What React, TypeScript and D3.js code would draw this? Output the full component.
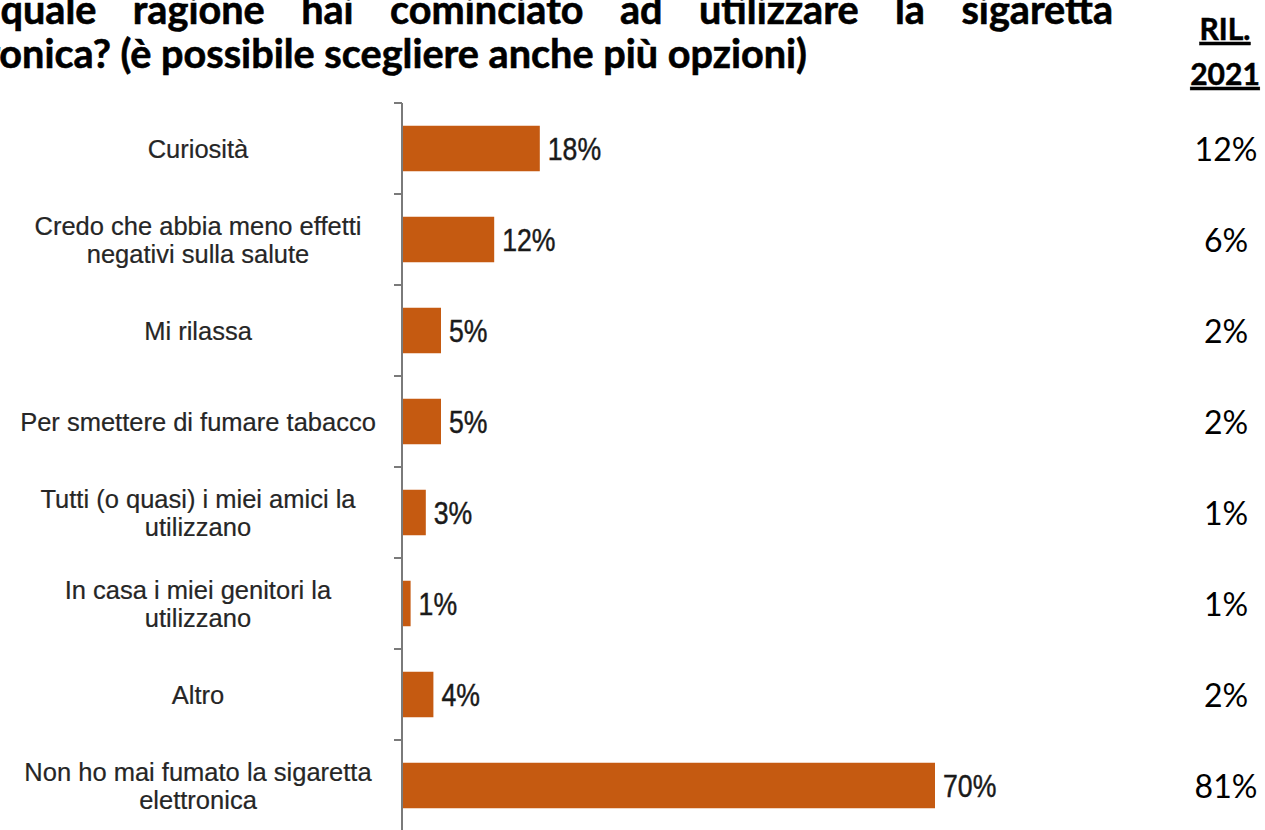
import React, { useEffect, useRef } from 'react';
import * as d3 from 'd3';

const categories = [
  'Curiosità',
  'Credo che abbia meno effetti negativi sulla salute',
  'Mi rilassa',
  'Per smettere di fumare tabacco',
  'Tutti (o quasi) i miei amici la utilizzano',
  'In casa i miei genitori la utilizzano',
  'Altro',
  'Non ho mai fumato la sigaretta elettronica',
];
const categoryLines = [
  ['Curiosità'],
  ['Credo che abbia meno effetti', 'negativi sulla salute'],
  ['Mi rilassa'],
  ['Per smettere di fumare tabacco'],
  ['Tutti (o quasi) i miei amici la', 'utilizzano'],
  ['In casa i miei genitori la', 'utilizzano'],
  ['Altro'],
  ['Non ho mai fumato la sigaretta', 'elettronica'],
];
const valuesCurrent = [18, 12, 5, 5, 3, 1, 4, 70];
const values2021 = [12, 6, 2, 2, 1, 1, 2, 81];
const headerLines = ['RIL.', '2021'];
const titleLine1 = 'Per quale ragione hai cominciato ad utilizzare la sigaretta';
const titleLine2 = 'elettronica? (è possibile scegliere anche più opzioni)';
const titleVisible2 = 'onica? (è possibile scegliere anche più opzioni)';

const W = 1265;
const H = 830;
const BAR = '#C55A11';
const SANS = '"Liberation Sans", Arial, sans-serif';
const CAL = 'Lato, "Open Sans", sans-serif';

export default function App() {
  const ref = useRef<SVGSVGElement>(null);

  useEffect(() => {
    document.body.style.margin = '0';
    document.body.style.overflow = 'hidden';
    const draw = () => {
      const svg = d3.select(ref.current);
      svg.selectAll('*').remove();

      const y = d3
        .scaleBand<string>()
        .domain(categories)
        .range([103, 831])
        .paddingInner(0.5)
        .paddingOuter(0.25);
      const x = d3.scaleLinear().domain([0, 100]).range([402, 1162]);
      const step = y.step();
      const x0 = x(0);

      // axis line + ticks at band boundaries
      const g = svg.append('g');
      g.append('line')
        .attr('x1', x0).attr('x2', x0)
        .attr('y1', y.range()[0]).attr('y2', y.range()[1])
        .attr('stroke', '#7a7a7a').attr('stroke-width', 2);
      g.selectAll('line.tick')
        .data(categories)
        .join('line')
        .attr('class', 'tick')
        .attr('x1', x0 - 8).attr('x2', x0)
        .attr('y1', (d) => (y(d) as number) - step * 0.25)
        .attr('y2', (d) => (y(d) as number) - step * 0.25)
        .attr('stroke', '#7a7a7a').attr('stroke-width', 2);

      // bars
      svg.append('g').selectAll('rect')
        .data(categories)
        .join('rect')
        .attr('x', x0 + 1)
        .attr('y', (d) => y(d) as number)
        .attr('width', (d, i) => x(valuesCurrent[i]) - x0)
        .attr('height', y.bandwidth())
        .attr('fill', BAR);

      // value labels (condensed look)
      svg.append('g').selectAll('text')
        .data(categories)
        .join('text')
        .attr('transform', (d, i) =>
          `translate(${x(valuesCurrent[i]) + 9},${(y(d) as number) + y.bandwidth() / 2}) scale(0.86,1)`)
        .attr('dy', '0.36em')
        .attr('font-family', SANS)
        .attr('font-size', 31)
        .attr('fill', '#1a1a1a')
        .attr('stroke', '#1a1a1a')
        .attr('stroke-width', 0.45)
        .text((d, i) => `${valuesCurrent[i]}%`);

      // category labels
      const lh = 28;
      const cl = svg.append('g').selectAll('text')
        .data(categories)
        .join('text')
        .attr('text-anchor', 'middle')
        .attr('font-family', SANS)
        .attr('font-size', 25.5)
        .attr('fill', '#262626')
        .attr('stroke', '#262626')
        .attr('stroke-width', 0.2);
      cl.each(function (d, i) {
        const lines = categoryLines[i];
        const cy = (y(d) as number) + y.bandwidth() / 2;
        const t = d3.select(this);
        lines.forEach((ln, k) => {
          t.append('tspan')
            .attr('x', 198)
            .attr('y', cy - ((lines.length - 1) * lh) / 2 + k * lh)
            .attr('dy', '0.36em')
            .text(ln);
        });
      });

      // right column: 2021
      svg.append('g').selectAll('text')
        .data(categories)
        .join('text')
        .attr('x', 1226)
        .attr('y', (d) => (y(d) as number) + y.bandwidth() / 2 + 1)
        .attr('dy', '0.36em')
        .attr('text-anchor', 'middle')
        .attr('font-family', CAL)
        .attr('font-size', 32)
        .attr('fill', '#000')
        .text((d, i) => `${values2021[i]}%`);

      svg.append('g').selectAll('text')
        .data(headerLines)
        .join('text')
        .attr('x', 1225)
        .attr('y', (d, i) => 40 + i * 45)
        .attr('text-anchor', 'middle')
        .attr('font-family', CAL)
        .attr('font-weight', 700)
        .attr('font-size', 30)
        .attr('text-decoration', 'underline')
        .attr('fill', '#000')
        .attr('stroke', '#000')
        .attr('stroke-width', 0.5)
        .text((d) => d);

      // title (justified, cut by the left edge)
      const probe = svg.append('text')
        .attr('font-family', CAL).attr('font-weight', 700).attr('font-size', 100)
        .text(titleVisible2);
      const pw = (probe.node() as SVGTextElement).getComputedTextLength();
      probe.remove();
      const fs = (808 / pw) * 100;
      const endX = 807;
      const t2 = svg.append('text')
        .attr('x', endX).attr('y', 68)
        .attr('text-anchor', 'end')
        .attr('font-family', CAL).attr('font-weight', 700).attr('font-size', fs)
        .attr('fill', '#000').attr('stroke', '#000').attr('stroke-width', 0.6)
        .text(titleLine2);
      const w2 = (t2.node() as SVGTextElement).getComputedTextLength();
      const L = endX - w2;
      const t1 = svg.append('text')
        .attr('x', L).attr('y', 24)
        .attr('font-family', CAL).attr('font-weight', 700).attr('font-size', fs)
        .attr('fill', '#000').attr('stroke', '#000').attr('stroke-width', 0.6)
        .text(titleLine1);
      const w1 = (t1.node() as SVGTextElement).getComputedTextLength();
      const spaces = titleLine1.split(' ').length - 1;
      t1.attr('word-spacing', (1113 - L - w1) / spaces);
    };
    draw();
    if ((document as any).fonts && (document as any).fonts.ready) {
      (document as any).fonts.ready.then(draw);
    }
  }, []);

  return (
    <svg
      ref={ref}
      width={W}
      height={H}
      style={{ position: 'absolute', left: 0, top: 0, background: '#fff' }}
    />
  );
}
